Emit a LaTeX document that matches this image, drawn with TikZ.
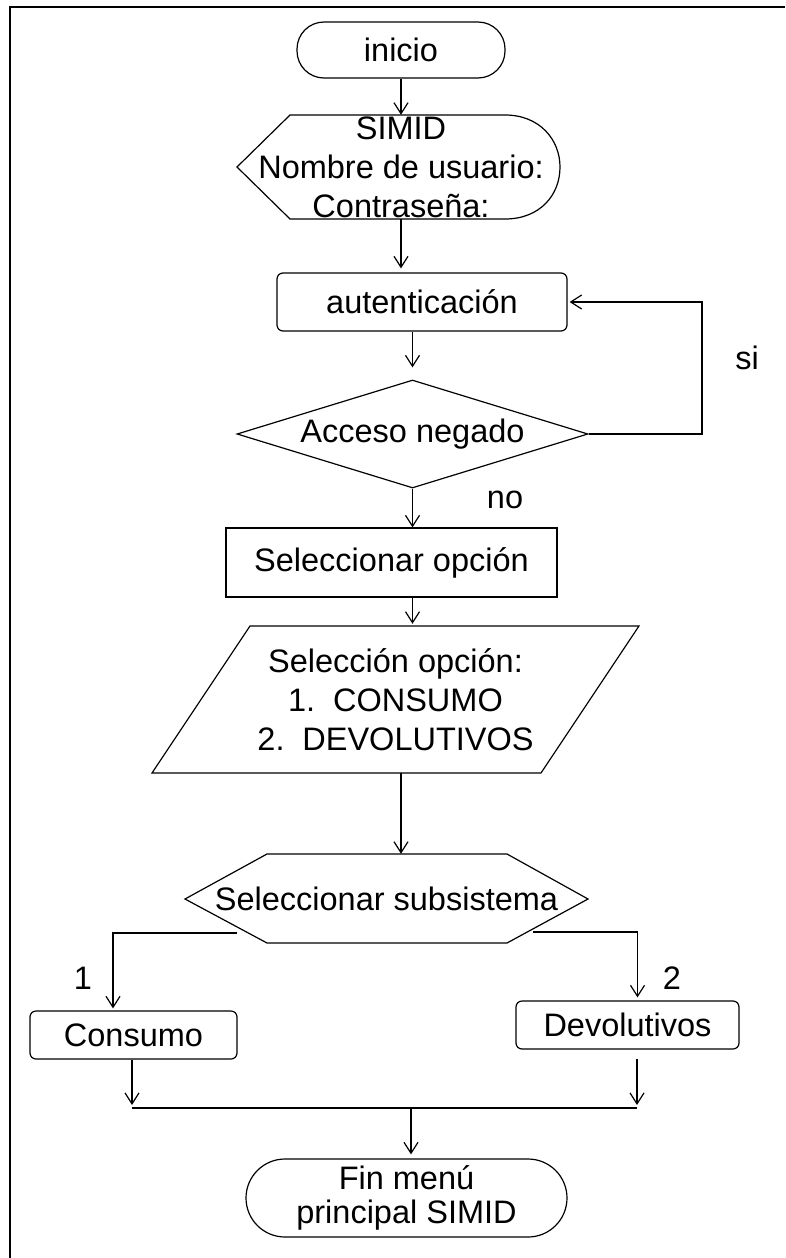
\documentclass[tikz,border=0pt]{standalone}
\usepackage{fontspec}
\setmainfont{Liberation Sans}
\usetikzlibrary{arrows.meta,shapes.geometric,calc}
\begin{document}
\begin{tikzpicture}[x=1pt,y=-1pt,
  txt/.style={font=\fontsize{32.5}{39}\selectfont, align=center, inner sep=0pt},
  ln/.style={line width=1.2pt},
  arr/.style={ln, -{Straight Barb[length=11pt,width=14pt,line width=1.2pt]}},
  rbox/.style={txt, draw, ln, rounded corners=6pt},
  pbox/.style={txt, draw, ln},
  term/.style={txt, draw, ln, rounded corners=27pt},
  shp/.style={txt}]
\useasboundingbox (0,0) rectangle (785,1258);
% frame
\draw[line width=2.5pt] (10,1258) -- (10,7) -- (785,7);

% start
\node[term, minimum width=208pt, minimum height=56pt] (inicio) at (401,50) {inicio};

% display shape
\draw[ln] (237,167) -- (290,115) -- (505,115) .. controls (540,115) and (560,140) .. (560,167)
  .. controls (560,195) and (540,219) .. (505,219) -- (290,219) -- cycle;
\node[shp, minimum width=323pt, minimum height=104pt] (disp) at (401,167) {SIMID\\Nombre de usuario:\\Contraseña:};

% authentication
\node[rbox, minimum width=290pt, minimum height=58pt] (auth) at (422,302) {autenticación};

% decision
\node[txt, diamond, draw, ln, aspect=3.25, minimum width=351pt, minimum height=108pt] (acc) at (412.5,434) {Acceso negado};

% select option
\node[pbox, minimum width=331pt, minimum height=69pt] (selop) at (391.5,562.5) {Seleccionar opción};

% parallelogram input
\draw[ln] (250,626) -- (639,626) -- (541,773) -- (152,773) -- cycle;
\node[shp, minimum width=487pt, minimum height=147pt] (selin) at (395.5,699.5) {Selección opción:\\1.\hspace{0.55em}CONSUMO\\2.\hspace{0.55em}DEVOLUTIVOS};

% hexagon
\draw[ln] (185,899) -- (267,854) -- (507,854) -- (588,899) -- (507,943) -- (267,943) -- cycle;
\node[shp, minimum width=403pt, minimum height=89pt] (hex) at (386.5,898.5) {Seleccionar subsistema};

% subsystems
\node[rbox, minimum width=207pt, minimum height=48pt] (cons) at (133.5,1035) {Consumo};
\node[rbox, minimum width=223pt, minimum height=48pt] (devo) at (627.5,1025) {Devolutivos};

% end
\node[term, rounded corners=39pt, minimum width=321pt, minimum height=78pt, font=\fontsize{32.5}{34}\selectfont] (fin) at (406.5,1198) {Fin menú\\principal SIMID};

% labels
\node[txt] (si) at (747,358) {si};
\node[txt] (no) at (505,500) {no};
\node[txt] (l1) at (83,978) {1};
\node[txt] (l2) at (672,978) {2};

% coordinates
\coordinate (lp) at (702,302);
\coordinate (b1) at (237,933);
\coordinate (b2) at (533,932);
\coordinate (jL) at (132,1108);
\coordinate (jR) at (637,1108);
\coordinate (jM) at (411,1108);

% connectors
\draw[arr] (inicio.south) -- (inicio.south |- disp.north);
\draw[arr, shorten >=4pt] (disp.south) -- (disp.south |- auth.north);
\draw[arr, shorten >=12pt] (auth.south -| acc.north) -- (acc.north);
\draw[arr, shorten >=2pt] (acc.east) -| (lp) -- (auth.east);
\draw[arr] (acc.south) -- (acc.south |- selop.north);
\draw[arr, shorten >=2pt] (acc.south |- selop.south) -- (acc.south |- selin.north);
\draw[arr] (inicio.south |- selin.south) -- (inicio.south |- hex.north);
\draw[arr, shorten >=2pt] (b1) -| ([xshift=-20.5pt]cons.north);
\draw[arr, shorten >=3pt] (b2) -| ([xshift=10pt]devo.north);
\draw[arr, shorten >=3pt] (cons.south -| jL) -- (jL);
\draw[arr, shorten <=9pt, shorten >=3pt] (devo.south -| jR) -- (jR);
\draw[ln] (jL) -- (jR);
\draw[arr, shorten >=4pt] (jM) -- (jM |- fin.north);
\end{tikzpicture}
\end{document}
